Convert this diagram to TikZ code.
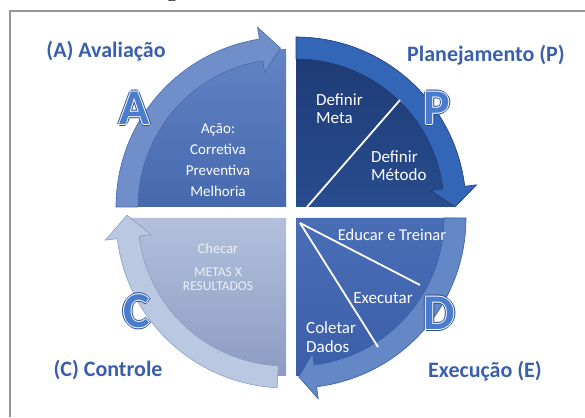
\documentclass[tikz,border=0pt]{standalone}
\usepackage{fontspec}
\setmainfont{Carlito}
\newfontfamily\lmr{Latin Modern Roman}
\usetikzlibrary{calc}
\definecolor{labelblue}{RGB}{58,96,172}
\definecolor{bigblue}{RGB}{74,124,206}
\definecolor{bigdark}{RGB}{44,76,148}
\definecolor{Abody1}{RGB}{98,132,196}
\definecolor{Abody2}{RGB}{70,104,174}
\definecolor{Aband}{RGB}{112,143,202}
\definecolor{Pbody1}{RGB}{30,58,116}
\definecolor{Pbody2}{RGB}{40,76,142}
\definecolor{Pband}{RGB}{52,102,184}
\definecolor{Dbody1}{RGB}{74,110,182}
\definecolor{Dbody2}{RGB}{58,94,168}
\definecolor{Dband}{RGB}{100,136,198}
\definecolor{Cbody1}{RGB}{178,192,220}
\definecolor{Cbody2}{RGB}{140,156,194}
\definecolor{Cband}{RGB}{186,200,226}
\definecolor{Ctext}{RGB}{236,240,248}
\definecolor{framegray}{RGB}{150,150,150}
\newcommand{\glowtxt}[4]{% #1 outer color, #2 inner glow, #3 fill, #4 text
 \leavevmode
 \rlap{\color{#1}\kern-2pt #4}\rlap{\color{#1}\kern2pt #4}%
 \rlap{\color{#1}\raisebox{2pt}{#4}}\rlap{\color{#1}\raisebox{-2pt}{#4}}%
 \rlap{\color{#2}\kern-1.1pt #4}\rlap{\color{#2}\kern1.1pt #4}%
 \rlap{\color{#2}\raisebox{1.1pt}{#4}}\rlap{\color{#2}\raisebox{-1.1pt}{#4}}%
 {\color{#3}#4}}
\tikzset{
 lbl/.style={font=\fontsize{22}{24}\selectfont\bfseries, text=labelblue, inner sep=0},
 big/.style={font=\fontsize{50}{50}\selectfont\bfseries, inner sep=0},
 intext/.style={text=white, inner sep=0, align=center},
 divline/.style={draw=white, line width=1.8pt},
 bandedge/.style={line width=0.6pt},
}
\begin{document}
\begin{tikzpicture}[x=1pt,y=1pt]
\useasboundingbox (0,0) rectangle (585,417);
\fill[white] (0,0) rectangle (585,417);
% frame
\draw[framegray, line width=1.5pt] (10,0) -- (10,406) -- (585,406);
\node[anchor=base, inner sep=0, font=\lmr\bfseries\fontsize{20}{20}\selectfont] (topg) at (172,419) {g};
% centres
\coordinate (cA) at (286,210);
\coordinate (cP) at (296,210);
\coordinate (cD) at (296,199);
\coordinate (cC) at (286,199);
% bodies
\shade[top color=Abody1, bottom color=Abody2] (cA) -- ($(cA)+(180:158)$) arc[start angle=180,end angle=90,radius=158] -- cycle;
\shade[top color=Pbody1, bottom color=Pbody2] (cP) -- ($(cP)+(90:158)$) arc[start angle=90,end angle=0,radius=158] -- cycle;
\shade[top color=Dbody1, bottom color=Dbody2] (cD) -- ($(cD)+(0:158)$) arc[start angle=0,end angle=-90,radius=158] -- cycle;
\shade[top color=Cbody1, bottom color=Cbody2] (cC) -- ($(cC)+(-90:158)$) arc[start angle=-90,end angle=-180,radius=158] -- cycle;
% bands (arrows)
\filldraw[fill=Aband, draw=Abody2, bandedge] ($(cA)+(180:170)$) arc[start angle=180,end angle=99,radius=170] -- ($(cA)+(99:182)$) -- ($(cA)+(92:159)$) -- ($(cA)+(99:136)$) -- ($(cA)+(99:148)$) arc[start angle=99,end angle=180,radius=148] -- cycle;
\filldraw[fill=Pband, draw=Pbody1, bandedge] ($(cP)+(90:170)$) arc[start angle=90,end angle=7,radius=170] -- ($(cP)+(7:182)$) -- ($(cP)+(0:159)$) -- ($(cP)+(7:136)$) -- ($(cP)+(7:148)$) arc[start angle=7,end angle=90,radius=148] -- cycle;
\filldraw[fill=Dband, draw=Dbody2, bandedge] ($(cD)+(0:170)$) arc[start angle=0,end angle=-83,radius=170] -- ($(cD)+(-83:182)$) -- ($(cD)+(-89:159)$) -- ($(cD)+(-83:136)$) -- ($(cD)+(-83:148)$) arc[start angle=-83,end angle=0,radius=148] -- cycle;
\filldraw[fill=Cband, draw=Cbody2, bandedge] ($(cC)+(-93:170)$) arc[start angle=-93,end angle=-173,radius=170] -- ($(cC)+(-173:182)$) -- ($(cC)+(-181:159)$) -- ($(cC)+(-173:136)$) -- ($(cC)+(-173:148)$) arc[start angle=-173,end angle=-93,radius=148] -- cycle;
% dividing lines
\coordinate (p1) at (307,210);
\coordinate (p2) at (400,317);
\draw[divline] (p1) -- (p2);
\coordinate (d0) at (300,194);
\coordinate (d1) at (420,132);
\coordinate (d2) at (378,70);
\draw[divline] (d0) -- (d1);
\draw[divline] (d0) -- (d2);
% inner texts
\node[intext, font=\fontsize{15}{21}\selectfont] (atext) at (218,257) {Ação:\\Corretiva\\Preventiva\\Melhoria};
\node[intext, align=left, anchor=west, font=\fontsize{17}{18}\selectfont] (pmeta) at (316,308) {Definir\\Meta};
\node[intext, align=left, anchor=west, font=\fontsize{17}{18}\selectfont] (pmet) at (371,251) {Definir\\Método};
\node[intext, font=\fontsize{16.5}{18}\selectfont] (deduc) at (392,182) {Educar e Treinar};
\node[intext, font=\fontsize{17}{18}\selectfont] (dexec) at (383,119) {Executar};
\node[intext, align=left, anchor=west, font=\fontsize{17}{19}\selectfont] (dcol) at (306,80) {Coletar\\Dados};
\node[intext, text=Ctext, font=\fontsize{14.5}{16}\selectfont] (cchk) at (218,168) {Checar};
\node[intext, text=Ctext, font=\fontsize{13.5}{14}\selectfont] (cmet) at (218,138) {METAS X\\RESULTADOS};
% big letters
\node[big] (bigA) at (135,309) {\glowtxt{bigdark}{white}{bigblue}{A}};
\node[big] (bigP) at (437,309) {\glowtxt{bigdark}{white}{bigblue}{P}};
\node[big] (bigC) at (137,106) {\glowtxt{bigdark}{white}{bigblue}{C}};
\node[big] (bigD) at (439,104) {\glowtxt{bigdark}{white}{bigblue}{D}};
% outer labels
\node[lbl] (lA) at (106,366) {(A) Avaliação};
\node[lbl] (lP) at (486,362) {Planejamento (P)};
\node[lbl] (lC) at (108,47) {(C) Controle};
\node[lbl] (lE) at (485,46) {Execução (E)};
\end{tikzpicture}
\end{document}
